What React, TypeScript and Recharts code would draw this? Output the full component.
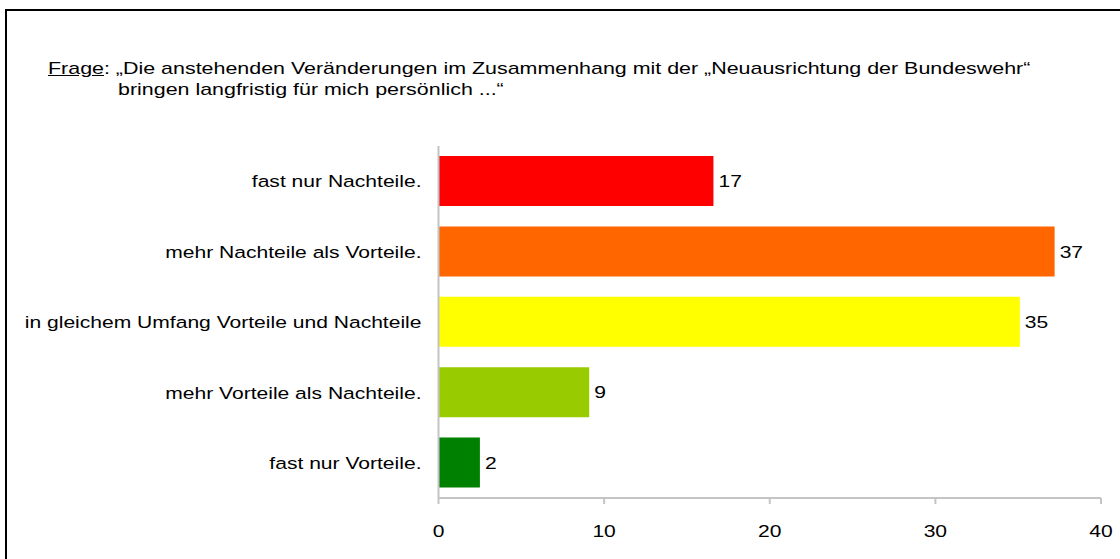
import React from 'react';
import { BarChart, Bar, XAxis, YAxis, Cell, LabelList } from 'recharts';

const categories = [
  'fast nur Nachteile.',
  'mehr Nachteile als Vorteile.',
  'in gleichem Umfang Vorteile und Nachteile',
  'mehr Vorteile als Nachteile.',
  'fast nur Vorteile.',
];
const shares = [16.6, 37.2, 35.1, 9.1, 2.5];
const shownLabels = ['17', '37', '35', '9', '2'];
const barColors = ['#FF0000', '#FF6600', '#FFFF00', '#99CC00', '#008000'];
const xTicks = [0, 10, 20, 30, 40];

const font = '"Liberation Sans", Arial, sans-serif';
const axisGray = '#c4c4c4';
// the source image is stretched horizontally, so text is widened a bit
const STRETCH = 1.24;

const data = categories.map((name, i) => ({ name, value: shares[i], label: shownLabels[i] }));

const CategoryTick = (props: any) => {
  const { x, y, payload } = props;
  return (
    <text
      transform={`translate(${x},${y}) scale(${STRETCH},1)`}
      textAnchor="end"
      dy="0.36em"
      fill="#000"
      fontSize={17}
      fontFamily={font}
    >
      {payload.value}
    </text>
  );
};

const ValueTick = (props: any) => {
  const { x, y, payload } = props;
  return (
    <text
      transform={`translate(${x},${y}) scale(${STRETCH},1)`}
      textAnchor="middle"
      dy="0.71em"
      fill="#000"
      fontSize={17}
      fontFamily={font}
    >
      {payload.value}
    </text>
  );
};

const BarValue = (props: any) => {
  const { x, y, width, height, value } = props;
  return (
    <text
      transform={`translate(${x + width + 5},${y + height / 2}) scale(${STRETCH},1)`}
      textAnchor="start"
      dy="0.36em"
      fill="#000"
      fontSize={17}
      fontFamily={font}
    >
      {value}
    </text>
  );
};

const titleStyle: React.CSSProperties = {
  position: 'absolute',
  fontSize: 17,
  whiteSpace: 'nowrap',
  color: '#000',
  transform: 'scaleX(1.26)',
  transformOrigin: '0 0',
};

const App: React.FC = () => {
  return (
    <div style={{ position: 'relative', width: 1120, height: 559, overflow: 'hidden', background: '#fff', fontFamily: font }}>
      <style>{'body{margin:0;overflow:hidden}'}</style>
      <div style={{ position: 'absolute', left: 5, top: 9, width: 1140, height: 580, border: '2px solid #000', boxSizing: 'border-box' }} />
      <div style={{ ...titleStyle, left: 48, top: 59 }}>
        <span style={{ textDecoration: 'underline' }}>Frage</span>: „Die anstehenden Veränderungen im Zusammenhang mit der „Neuausrichtung der Bundeswehr“
      </div>
      <div style={{ ...titleStyle, left: 118, top: 80 }}>
        bringen langfristig für mich persönlich ...“
      </div>
      <div style={{ position: 'absolute', left: 0, top: 0 }}>
        <BarChart
          layout="vertical"
          width={1120}
          height={559}
          data={data}
          margin={{ top: 146, right: 19, bottom: 21, left: 0 }}
        >
          <XAxis
            type="number"
            domain={[0, 40]}
            ticks={xTicks}
            height={40}
            axisLine={{ stroke: axisGray, strokeWidth: 2 }}
            tickLine={{ stroke: axisGray, strokeWidth: 2 }}
            tickSize={6}
            tickMargin={21}
            tick={<ValueTick />}
          />
          <YAxis
            type="category"
            dataKey="name"
            width={438.5}
            axisLine={{ stroke: axisGray, strokeWidth: 2 }}
            tickLine={false}
            tickSize={0}
            tickMargin={17}
            tick={<CategoryTick />}
          />
          <Bar dataKey="value" barSize={50} isAnimationActive={false}>
            {data.map((d, i) => (
              <Cell key={d.name} fill={barColors[i]} />
            ))}
            <LabelList dataKey="label" content={<BarValue />} />
          </Bar>
        </BarChart>
      </div>
    </div>
  );
};

export default App;
